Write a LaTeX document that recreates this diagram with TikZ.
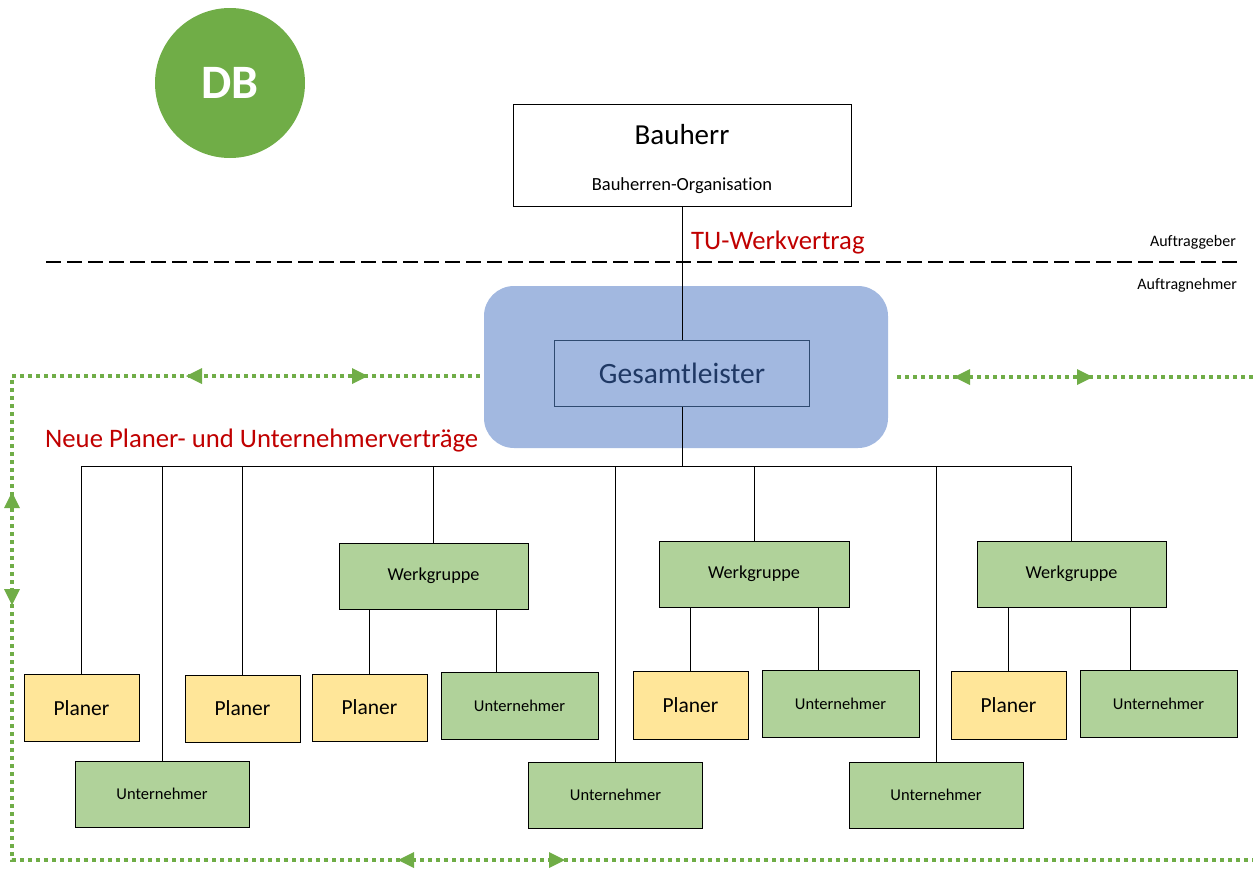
\documentclass[tikz,border=0pt]{standalone}
\usepackage{fontspec}
\setmainfont[Ligatures=NoCommon]{Carlito}
\usetikzlibrary{arrows.meta}
\definecolor{dbgreen}{HTML}{70AD47}
\definecolor{boxgreen}{HTML}{B0D29A}
\definecolor{planeryellow}{HTML}{FFE699}
\definecolor{gsblue}{HTML}{A2B8E0}
\definecolor{gsnavy}{HTML}{1F3864}
\definecolor{gsframe}{HTML}{2F4A70}
\definecolor{contractred}{HTML}{C00000}

\begin{document}
\begin{tikzpicture}[x=1pt,y=-1pt,
  orgbox/.style={draw=black, line width=1pt, rectangle, inner sep=0pt},
  planerbox/.style={orgbox, fill=planeryellow, minimum width=115pt, minimum height=67pt,
    font=\fontsize{21.5}{25}\selectfont},
  firmbox/.style={orgbox, fill=boxgreen, minimum width=157pt, minimum height=67pt,
    font=\fontsize{16.5}{19}\selectfont},
  firmwide/.style={firmbox, minimum width=174pt, minimum height=66pt},
  groupbox/.style={orgbox, fill=boxgreen, minimum width=189pt, minimum height=66pt,
    font=\fontsize{18.2}{22}\selectfont},
  link/.style={draw=black, line width=1pt},
  gdots/.style={draw=dbgreen, line width=3.5pt, dash pattern=on 4pt off 4pt},
  gtip/.pic={\fill[dbgreen] (0,0) -- (-16,8) -- (-16,-8) -- cycle;},
  redlabel/.style={text=contractred, font=\fontsize{26.7}{31}\selectfont, inner sep=0pt},
  sidelabel/.style={font=\fontsize{16}{19}\selectfont, inner sep=0pt, anchor=east}
]
\useasboundingbox (0,0) rectangle (1253,868);

% Logo
\node[circle, fill=dbgreen, minimum size=150pt, inner sep=0pt, text=white,
  font=\fontsize{48}{52}\selectfont\bfseries] (logo) at (230,83) {DB};

% Client
\node[orgbox, fill=white, minimum width=338pt, minimum height=102pt] (bauherr) at (682,155) {};
\node[font=\fontsize{29}{33}\selectfont, inner sep=0pt] (bhtitle) at (682,135) {Bauherr};
\node[font=\fontsize{18.5}{22}\selectfont, inner sep=0pt] (bhorg) at (682,186) {Bauherren-Organisation};

% Contract boundary
\coordinate (dashL) at (46,262);
\coordinate (dashR) at (1238,262);
\draw[line width=1.8pt, dash pattern=on 15pt off 6pt] (dashL) -- (dashR);
\node[sidelabel] (ag) at (1236,242) {Auftraggeber};
\node[sidelabel] (an) at (1237,285) {Auftragnehmer};
\node[redlabel, anchor=west] (tu) at (691,243) {TU-Werkvertrag};

% General contractor
\node[rectangle, fill=gsblue, rounded corners=30pt, minimum width=404pt,
  minimum height=162pt] (gsarea) at (686,367) {};
\node[rectangle, draw=gsframe, line width=1pt, minimum width=255pt, minimum height=66pt,
  text=gsnavy, font=\fontsize{29.5}{34}\selectfont] (gesamt) at (682,373) {Gesamtleister};
\draw[link] (bauherr.south) -- (gesamt.north);

\node[redlabel, anchor=west] (neue) at (45,441) {Neue Planer- und Unternehmerverträge};

% Distribution bus
\coordinate (busL) at (82,466);
\coordinate (busR) at (1072,466);
\draw[link] (busL) -- (busR);
\draw[link] (gesamt.south) -- (gesamt.south |- busL);

% Direct contracts
\node[planerbox] (p1) at (81.5,708) {Planer};
\node[firmwide] (u1) at (162,794) {Unternehmer};
\node[planerbox] (p2) at (242.5,708.5) {Planer};
\node[firmwide] (u2) at (615.5,795) {Unternehmer};
\node[firmwide] (u3) at (936,795) {Unternehmer};

% Work groups
\node[groupbox] (wg1) at (433.5,576) {Werkgruppe};
\node[planerbox] (wg1p) at (369.5,707.5) {Planer};
\node[firmbox] (wg1u) at (519.5,705.5) {Unternehmer};

\node[groupbox, minimum width=190pt] (wg2) at (754,574) {Werkgruppe};
\node[planerbox, minimum height=68pt] (wg2p) at (690.5,705) {Planer};
\node[firmbox] (wg2u) at (840.5,703.5) {Unternehmer};

\node[groupbox] (wg3) at (1071.5,574) {Werkgruppe};
\node[planerbox, minimum height=68pt] (wg3p) at (1008.5,705) {Planer};
\node[firmbox] (wg3u) at (1158.5,703.5) {Unternehmer};

% Drops from the bus
\foreach \n in {p1,u1,p2,wg1,u2,wg2,u3,wg3}
  \draw[link] (\n.north) -- (\n.north |- busL);

% Work group members
\draw[link] (wg1p.north) -- (wg1p.north |- wg1.south);
\draw[link] ([xshift=-23.5pt]wg1u.north) -- ([xshift=-23.5pt]wg1u.north |- wg1.south);
\draw[link] (wg2p.north) -- (wg2p.north |- wg2.south);
\draw[link] ([xshift=-22.5pt]wg2u.north) -- ([xshift=-22.5pt]wg2u.north |- wg2.south);
\draw[link] (wg3p.north) -- (wg3p.north |- wg3.south);
\draw[link] ([xshift=-28.5pt]wg3u.north) -- ([xshift=-28.5pt]wg3u.north |- wg3.south);

% Coordination loop
\coordinate (loopA) at (480,376);
\coordinate (loopTL) at (12,376);
\coordinate (loopBL) at (12,860);
\coordinate (loopBR) at (1253,860);
\coordinate (loopC) at (897,377);
\coordinate (loopD) at (1253,377);
\draw[gdots] (loopA) -- (loopTL) -- (loopBL) -- (loopBR);
\draw[gdots] (loopC) -- (loopD);

\pic[rotate=180] at (186,376) {gtip};
\pic at (368,376) {gtip};
\pic[rotate=180] at (954,377) {gtip};
\pic at (1093,377) {gtip};
\pic[rotate=90] at (12,492) {gtip};
\pic[rotate=-90] at (12,605) {gtip};
\pic[rotate=180] at (398,860) {gtip};
\pic at (565,860) {gtip};
\end{tikzpicture}
\end{document}
